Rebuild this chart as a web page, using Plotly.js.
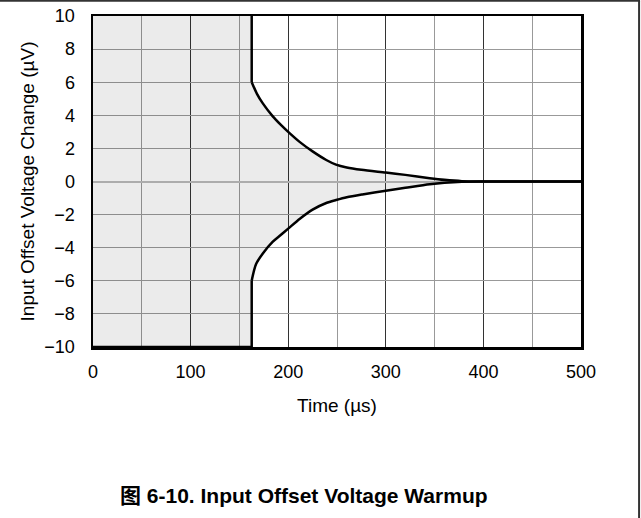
<!DOCTYPE html>
<html>
<head>
<meta charset="utf-8">
<script src="https://cdn.plot.ly/plotly-3.0.1.min.js"></script>
<style>
  html, body { margin: 0; padding: 0; background: #fff; }
  #chart { width: 641px; height: 518px; }
</style>
</head>
<body>
<div id="chart"></div>
<script>
// Warmup envelope of the input offset voltage (µV) versus time (µs)
const settleStart = 162.6;   // envelope becomes valid here
const fullScale = 10;        // ±10 µV axis limits

const upperTime = [162.6, 168, 174, 184, 192, 200, 212, 225, 239, 249, 260, 275, 300, 320, 345, 360, 378, 400, 450, 500];
const upperVolt = [6.0, 5.3, 4.72, 3.95, 3.45, 3.0, 2.38, 1.82, 1.3, 1.02, 0.85, 0.71, 0.54, 0.4, 0.2, 0.1, 0.02, 0, 0, 0];

const lowerTime = [162.6, 167, 174, 184, 192, 200, 212, 225, 239, 249, 260, 276, 300, 320, 345, 360, 378, 400, 450, 500];
const lowerVolt = [-6.0, -5.0, -4.35, -3.65, -3.25, -2.85, -2.25, -1.7, -1.3, -1.12, -0.95, -0.78, -0.56, -0.38, -0.16, -0.07, -0.01, 0, 0, 0];

const xTickVals = [0, 100, 200, 300, 400, 500];
const yTickVals = [-10, -8, -6, -4, -2, 0, 2, 4, 6, 8, 10];

// shaded region: everything before settleStart plus the band between the curves
const bandEnd = upperTime.indexOf(400);
const fillX = [0, 0, settleStart]
  .concat(upperTime.slice(0, bandEnd + 1))
  .concat(lowerTime.slice(0, bandEnd + 1).reverse())
  .concat([settleStart]);
const fillY = [-fullScale, fullScale, fullScale]
  .concat(upperVolt.slice(0, bandEnd + 1))
  .concat(lowerVolt.slice(0, bandEnd + 1).reverse())
  .concat([-fullScale]);

const lineStyle = { color: '#000', width: 2.5 };
const curveStyle = { color: '#000', width: 2.5, shape: 'spline', smoothing: 0.8 };

const traces = [
  {
    x: fillX, y: fillY, mode: 'lines', fill: 'toself',
    fillcolor: 'rgba(0,0,0,0.08)', line: { width: 0 }, hoverinfo: 'skip'
  },
  // step edges of the envelope
  { x: [settleStart, upperTime[0]], y: [fullScale, upperVolt[0]], mode: 'lines', line: lineStyle },
  { x: [0, settleStart, lowerTime[0]], y: [-fullScale, -fullScale, lowerVolt[0]], mode: 'lines', line: lineStyle },
  // settling curves
  { x: upperTime, y: upperVolt, mode: 'lines', line: curveStyle },
  { x: lowerTime, y: lowerVolt, mode: 'lines', line: curveStyle }
];

const font = { family: 'Liberation Sans, Arial, sans-serif', size: 18, color: '#000' };
const titleFont = { family: 'Liberation Sans, Arial, sans-serif', size: 19, color: '#000' };

const layout = {
  width: 641, height: 518,
  margin: { l: 93, r: 60, t: 16, b: 171 },
  paper_bgcolor: '#fff', plot_bgcolor: '#fff',
  showlegend: false,
  font: font,
  xaxis: {
    range: [0, 500], tickvals: xTickVals, ticks: '',
    ticklabelstandoff: 7,
    showline: true, mirror: true, linecolor: '#000', linewidth: 2.5,
    gridcolor: '#333', gridwidth: 1.2, zeroline: false,
    minor: { dtick: 50, showgrid: true, gridcolor: '#999', gridwidth: 1 },
    title: { text: 'Time (µs)', font: titleFont, standoff: 18 }
  },
  yaxis: {
    range: [-10, 10], tickvals: yTickVals, ticks: '',
    ticklabelstandoff: 12,
    showline: true, mirror: true, linecolor: '#000', linewidth: 2.5,
    gridcolor: '#999', gridwidth: 1,
    zeroline: true, zerolinecolor: '#bbb', zerolinewidth: 2,
    title: { text: 'Input Offset Voltage Change (µV)', font: titleFont, standoff: 5 }
  },
  shapes: [
    { type: 'line', xref: 'paper', yref: 'paper', x0: -0.2, x1: 1.121, y0: 1.046, y1: 1.046,
      line: { color: '#333', width: 2 } },
    { type: 'line', xref: 'paper', yref: 'paper', x0: 1.119, x1: 1.119, y0: -0.54, y1: 1.046,
      line: { color: '#333', width: 2 } }
  ],
  annotations: [
    {
      xref: 'paper', yref: 'paper', x: 0.433, y: -0.45,
      xanchor: 'center', yanchor: 'middle', showarrow: false,
      text: '<b>图 6-10. Input Offset Voltage Warmup</b>',
      font: { family: 'Liberation Sans, Noto Sans CJK SC, sans-serif', size: 21, color: '#000' }
    }
  ]
};

Plotly.newPlot('chart', traces, layout, { staticPlot: true, displayModeBar: false });
</script>
</body>
</html>
